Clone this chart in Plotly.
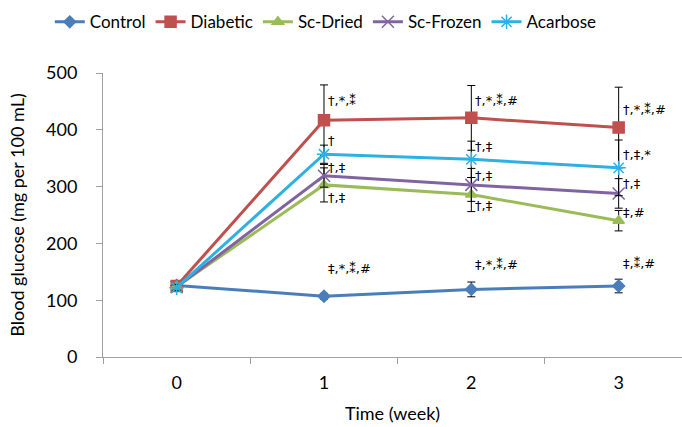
import plotly.graph_objects as go

weeks = ["0", "1", "2", "3"]
series_names = ["Control", "Diabetic", "Sc-Dried", "Sc-Frozen", "Acarbose"]
control = [126, 107, 119, 125]
diabetic = [125, 417, 421, 404]
sc_dried = [124, 303, 286, 240]
sc_frozen = [123, 319, 303, 288]
acarbose = [122, 357, 348, 333]
control_err = [5, 5, 13, 12]
diabetic_err = [6, 62, 57, 71]
sc_dried_err = [5, 30, 30, 18]
sc_frozen_err = [5, 20, 29, 26]
acarbose_err = [5, 16, 32, 49]

# significance labels: (week, y value, text)
sig_labels = [
    ("1", 451, "†,*,⁑"), ("1", 382, "†"), ("1", 334, "†,‡"), ("1", 280, "†,‡"),
    ("1", 156, "‡,*,⁑,#"),
    ("2", 451, "†,*,⁑,#"), ("2", 371, "†,‡"), ("2", 319, "†,‡"), ("2", 266, "†,‡"),
    ("2", 163, "‡,*,⁑,#"),
    ("3", 435, "†,*,⁑,#"), ("3", 356, "†,‡,*"), ("3", 306, "†,‡"), ("3", 255, "‡,#"),
    ("3", 165, "‡,⁑,#"),
]

colors = ["#4A7EBB", "#C0504D", "#9BBB59", "#8064A2", "#2DB0E4"]
symbols = ["diamond", "square", "triangle-up", "x-thin-open", "asterisk-open"]
sizes = [9, 11, 10, 12, 12]
data = [control, diabetic, sc_dried, sc_frozen, acarbose]
errs = [control_err, diabetic_err, sc_dried_err, sc_frozen_err, acarbose_err]

fig = go.Figure()
for name, ys, err, c, s, sz in zip(series_names, data, errs, colors, symbols, sizes):
    fig.add_trace(go.Scatter(
        x=weeks, y=ys, name=name, mode="lines+markers",
        line=dict(color=c, width=3),
        marker=dict(symbol=s, size=sz, color=c, line=dict(color=c, width=1.5)),
        error_y=dict(type="data", array=err, visible=True, color="black",
                     thickness=1, width=4),
    ))

for wk, yv, txt in sig_labels:
    fig.add_annotation(x=wk, y=yv, text=txt, showarrow=False, xanchor="left",
                       yanchor="middle", xshift=2,
                       font=dict(family="DejaVu Sans", size=13, color="black"))

fig.update_layout(
    width=682, height=427,
    margin=dict(l=103, r=0, t=73, b=70),
    paper_bgcolor="white", plot_bgcolor="white",
    font=dict(family="Lato", size=18, color="black"),
    showlegend=True,
    legend=dict(orientation="h", x=0.073, xref="container", y=0.99, yref="container",
                yanchor="top", xanchor="left", font=dict(size=17),
                itemwidth=30, tracegroupgap=0, itemsizing="trace"),
    xaxis=dict(type="category", range=[-0.5, 3.43], showgrid=False,
               showline=True, linecolor="#A0A0A0", linewidth=1,
               ticks="outside", tickson="boundaries", ticklen=6,
               tickcolor="#A0A0A0", zeroline=False, ticklabelstandoff=9,
               title=dict(text="Time (week)", font=dict(size=18), standoff=15)),
    yaxis=dict(range=[0, 500], dtick=100, showgrid=False, showline=True,
               linecolor="#A0A0A0", linewidth=1, ticks="outside", ticklen=6,
               tickcolor="#A0A0A0", zeroline=False, ticklabelstandoff=15,
               title=dict(text="Blood glucose (mg per 100 mL)",
                          font=dict(size=18), standoff=16)),
)

fig.write_html("out.html")
